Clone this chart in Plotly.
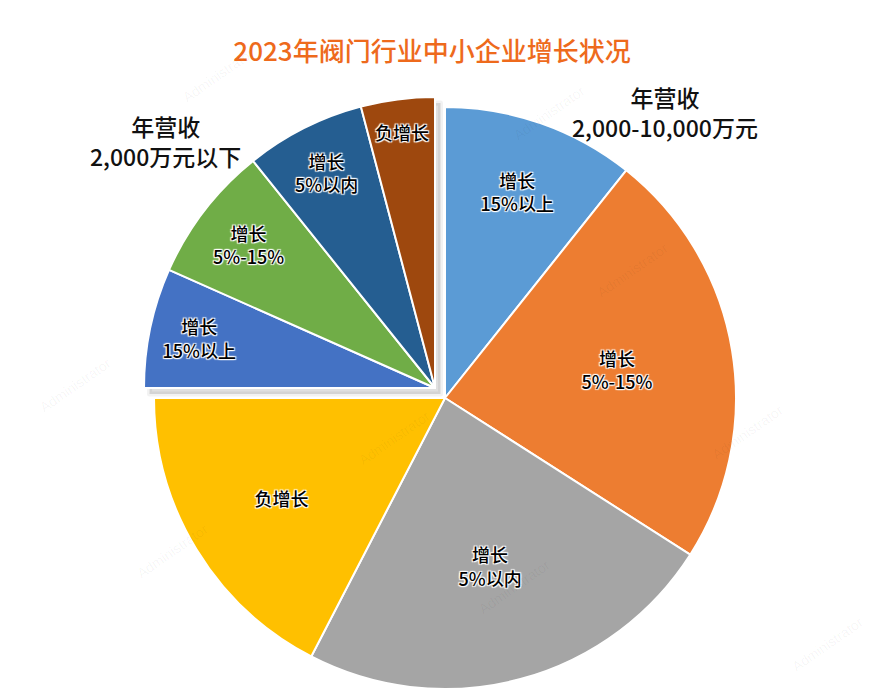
import plotly.graph_objects as go

# ---- data ----
slice_labels = ["增长<br>15%以上", "增长<br>5%-15%", "增长<br>5%以内", "负增长"]
large_values = [10.7, 23.35, 23.55, 17.4]   # 年营收 2,000-10,000万元
small_values = [6.65, 7.6, 6.65, 4.1]       # 年营收 2,000万元以下
large_colors = ["#5B9BD5", "#ED7D31", "#A5A5A5", "#FFC000"]
small_colors = ["#4472C4", "#70AD47", "#255E91", "#9E480E"]
group_titles = ["年营收<br>2,000-10,000万元", "年营收<br>2,000万元以下"]
title_text = "2023年阀门行业中小企业增长状况"

W, H = 896, 695
FONT = "Noto Sans CJK SC"
R = 291


def dom(cx, cy, r=R):
    return dict(x=[(cx - r) / W, (cx + r) / W],
                y=[(H - cy - r) / H, (H - cy + r) / H])


halo = ("1px 1px 1px #fff, -1px -1px 1px #fff, 1px -1px 1px #fff, "
        "-1px 1px 1px #fff, 0 0 2px #fff")
TRANSP = "rgba(0,0,0,0)"
label_font = dict(family=FONT, size=18, color="#000", shadow=halo, weight=500)

fig = go.Figure()

# main (large revenue) group + transparent filler for the other quarter
fig.add_trace(go.Pie(
    labels=["L1", "L2", "L3", "L4", "LF"],
    text=slice_labels + [""],
    values=large_values + [sum(small_values)],
    marker=dict(colors=large_colors + [TRANSP],
                line=dict(color=["#fff"] * 4 + [TRANSP], width=[2] * 4 + [0])),
    sort=False, direction="clockwise", rotation=0,
    textinfo="text", textposition="inside", insidetextorientation="horizontal",
    insidetextfont=label_font,
    hoverinfo="skip", domain=dom(445, 398), showlegend=False,
))

# shadow of the pulled-out quarter
fig.add_trace(go.Pie(
    labels=["a", "b"],
    values=[sum(large_values), sum(small_values)],
    marker=dict(colors=[TRANSP, "rgba(0,0,0,0.12)"],
                line=dict(color=[TRANSP, "rgba(0,0,0,0.05)"], width=[0, 5])),
    sort=False, direction="clockwise", rotation=0, textinfo="none",
    hoverinfo="skip", domain=dom(440.5, 394), showlegend=False,
))

# pulled-out quarter (small revenue group)
fig.add_trace(go.Pie(
    labels=["SF", "S1", "S2", "S3", "S4"],
    text=[""] + slice_labels,
    values=[sum(large_values)] + small_values,
    marker=dict(colors=[TRANSP] + small_colors,
                line=dict(color=[TRANSP] + ["#fff"] * 4, width=[0] + [2] * 4)),
    sort=False, direction="clockwise", rotation=0,
    textinfo="text", textposition="inside", insidetextorientation="horizontal",
    insidetextfont=label_font,
    hoverinfo="skip", domain=dom(435, 388), showlegend=False,
))

annotations = [
    dict(text=group_titles[0], x=665 / W, y=1 - 112 / H, xref="paper", yref="paper",
         xanchor="center", yanchor="middle", showarrow=False,
         font=dict(family=FONT, size=23, color="#111", weight=500), align="center"),
    dict(text=group_titles[1], x=165 / W, y=1 - 141 / H, xref="paper", yref="paper",
         xanchor="center", yanchor="middle", showarrow=False,
         font=dict(family=FONT, size=23, color="#111", weight=500), align="center"),
]
for (wx, wy) in [(177, 42), (549, 80), (674, 270), (34, 385), (394, 438),
                 (789, 465), (131, 584), (514, 620), (869, 677)]:
    annotations.append(dict(text="Administrator", x=wx / W, y=1 - wy / H,
                            xref="paper", yref="paper", showarrow=False, textangle=-35,
                            font=dict(family="Arial", size=14, color="rgba(0,0,0,0.045)")))

fig.update_layout(
    width=W, height=H,
    margin=dict(l=0, r=0, t=0, b=0),
    paper_bgcolor="#fff", plot_bgcolor="#fff",
    title=dict(text=title_text, x=432 / W, y=1 - 52 / H, xanchor="center", yanchor="middle",
               font=dict(family=FONT, size=26, color="#EE6A1C", weight=500)),
    annotations=annotations,
)

fig.write_html("out.html", config={"displayModeBar": False},
               post_script="document.body.style.margin='0';")
